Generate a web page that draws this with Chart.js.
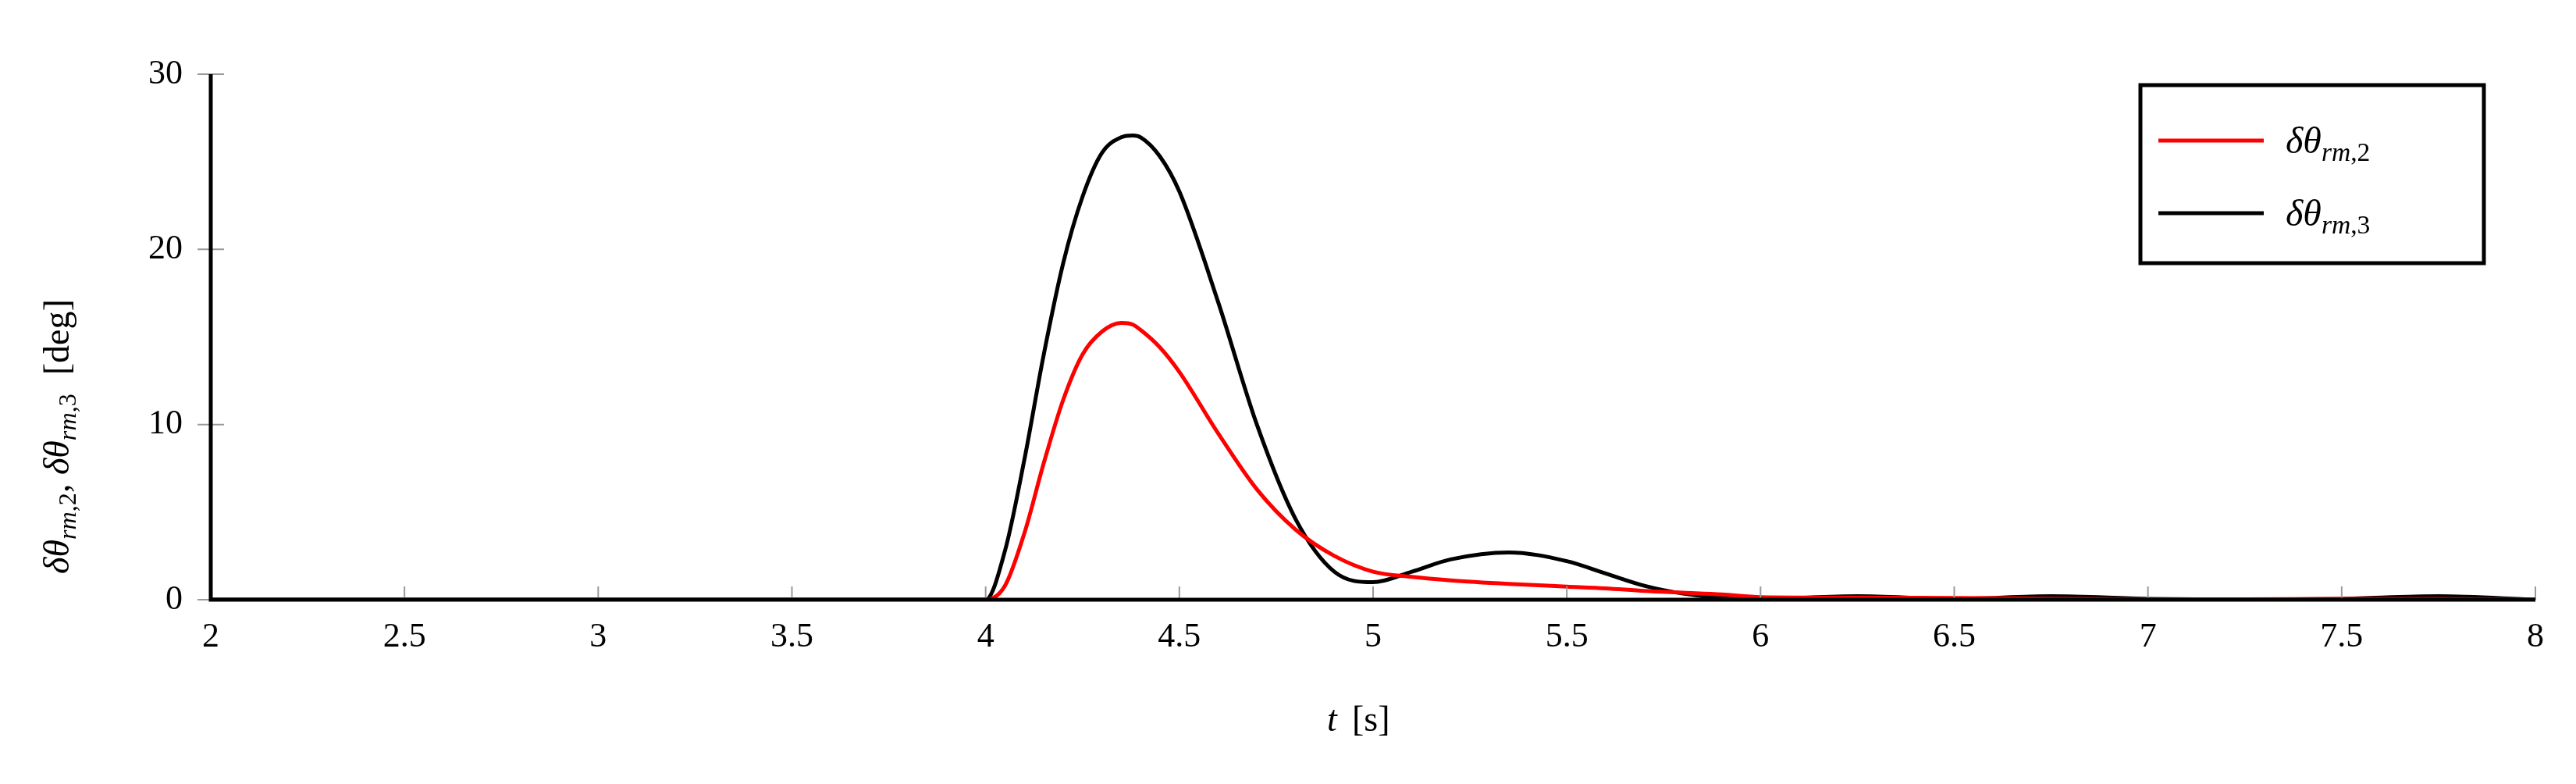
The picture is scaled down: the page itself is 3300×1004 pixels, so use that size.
<!DOCTYPE html>
<html><head><meta charset="utf-8">
<script src="https://cdn.jsdelivr.net/npm/chart.js@4/dist/chart.umd.min.js"></script>
<style>html,body{margin:0;padding:0;background:#fff}#c{display:block}</style>
</head><body>
<div style="width:3300px;height:1004px"><canvas id="c" width="3300" height="1004"></canvas></div>
<script>
const tVals = [2,3,3.5,3.95,4.0,4.05,4.1,4.15,4.2,4.25,4.3,4.35,4.38,4.4,4.45,4.5,4.6,4.7,4.8,4.9,5.0,5.1,5.2,5.35,5.5,5.6,5.7,5.8,5.9,6.0,6.25,6.5,6.75,7.0,7.25,7.5,7.75,8.0];
const dTheta2 = [0,0,0,0,0,0.8,3.8,7.8,11.4,14.0,15.3,15.8,15.7,15.4,14.4,13.0,9.5,6.3,4.0,2.5,1.6,1.3,1.1,0.9,0.75,0.65,0.5,0.4,0.3,0.15,0.12,0.1,0.06,0.02,0.02,0.05,0.05,0];
const dTheta3 = [0,0,0,0,0,2.8,8.0,14.0,19.2,23.0,25.5,26.4,26.5,26.4,25.3,23.3,17.0,10.0,4.6,1.6,1.0,1.6,2.3,2.7,2.2,1.5,0.8,0.35,0.1,0.05,0.2,0.05,0.2,0.05,0,0.05,0.2,0];
const xTicks = [2,2.5,3,3.5,4,4.5,5,5.5,6,6.5,7,7.5,8];
const yTicks = [0,10,20,30];

const SERIF = '"Liberation Serif","DejaVu Serif",serif';
function mk(v){return tVals.map((t,i)=>({x:t,y:v[i]}));}

// draw "δθ_{rm,k}" at x,y (baseline), returns width
function drawSym(ctx,x,y,k,fs){
  ctx.font = 'italic '+fs+'px '+SERIF;
  ctx.fillText('δθ',x,y); let w=ctx.measureText('δθ').width;
  const sf = fs*0.7;
  ctx.font = 'italic '+sf+'px '+SERIF;
  ctx.fillText('rm',x+w,y+fs*0.2); let w2=ctx.measureText('rm').width;
  ctx.font = sf+'px '+SERIF;
  const s=','+k; ctx.fillText(s,x+w+w2,y+fs*0.2);
  return w+w2+ctx.measureText(s).width;
}

const deco = {
  id:'deco',
  afterDraw(chart){
    const ctx=chart.ctx, ca=chart.chartArea, xs=chart.scales.x, ys=chart.scales.y;
    ctx.save();
    // ticks
    ctx.strokeStyle='#999'; ctx.lineWidth=2;
    xTicks.forEach(v=>{const p=xs.getPixelForValue(v);ctx.beginPath();ctx.moveTo(p,ca.bottom);ctx.lineTo(p,ca.bottom-17);ctx.stroke();});
    yTicks.forEach(v=>{const p=ys.getPixelForValue(v);ctx.beginPath();ctx.moveTo(ca.left-17,p);ctx.lineTo(ca.left+17,p);ctx.stroke();});
    // axes lines
    ctx.strokeStyle='#000'; ctx.lineWidth=5;
    ctx.beginPath();ctx.moveTo(ca.left,ca.top);ctx.lineTo(ca.left,ca.bottom);ctx.lineTo(ca.right,ca.bottom);ctx.stroke();
    ctx.fillStyle='#000';
    // x title
    ctx.textBaseline='alphabetic';
    ctx.font='italic 46px '+SERIF; ctx.fillText('t',1700,936);
    ctx.font='46px '+SERIF; ctx.fillText('[s]',1732,936);
    // y title rotated
    ctx.save(); ctx.translate(88,455); ctx.rotate(-Math.PI/2);
    let fs=46, w=0;
    const total=560; let x0=-total/2;
    w=drawSym(ctx,x0,0,2,fs); x0+=w;
    ctx.font=fs+'px '+SERIF; ctx.fillText(', ',x0,0); x0+=ctx.measureText(', ').width;
    w=drawSym(ctx,x0,0,3,fs); x0+=w+24;
    ctx.font=fs+'px '+SERIF; ctx.fillText('[deg]',x0,0);
    ctx.restore();
    // legend
    const lx=2742, ly=109, lw=440, lh=228;
    ctx.fillStyle='#fff'; ctx.fillRect(lx,ly,lw,lh);
    ctx.strokeStyle='#000'; ctx.lineWidth=5; ctx.strokeRect(lx,ly,lw,lh);
    const items=[['#ff0000',2,180],['#000000',3,273]];
    items.forEach(([c,k,yy])=>{
      ctx.strokeStyle=c; ctx.lineWidth=5;
      ctx.beginPath(); ctx.moveTo(2765,yy); ctx.lineTo(2900,yy); ctx.stroke();
      ctx.fillStyle='#000'; drawSym(ctx,2928,yy+16,k,48);
    });
    ctx.restore();
  }
};

new Chart(document.getElementById('c'),{
  type:'line',
  data:{datasets:[
    {data:mk(dTheta2),borderColor:'#ff0000',borderWidth:5,pointRadius:0,cubicInterpolationMode:'monotone',fill:false},
    {data:mk(dTheta3),borderColor:'#000000',borderWidth:5,pointRadius:0,cubicInterpolationMode:'monotone',fill:false}
  ]},
  options:{
    responsive:false,animation:false,devicePixelRatio:1,
    layout:{padding:{top:95,right:52,left:0,bottom:0}},
    plugins:{legend:{display:false},tooltip:{enabled:false}},
    scales:{
      x:{type:'linear',min:2,max:8,
        afterBuildTicks(s){s.ticks=xTicks.map(v=>({value:v}));},
        afterFit(s){s.height=236;},
        grid:{display:false},border:{display:false},
        ticks:{color:'#000',font:{family:SERIF,size:44},padding:14,maxRotation:0,callback:v=>String(v)}},
      y:{min:0,max:30,
        afterBuildTicks(s){s.ticks=yTicks.map(v=>({value:v}));},
        afterFit(s){s.width=270;},
        grid:{display:false},border:{display:false},
        ticks:{color:'#000',font:{family:SERIF,size:44},padding:28,callback:v=>String(v)}}
    }
  },
  plugins:[deco]
});
</script>
</body></html>
